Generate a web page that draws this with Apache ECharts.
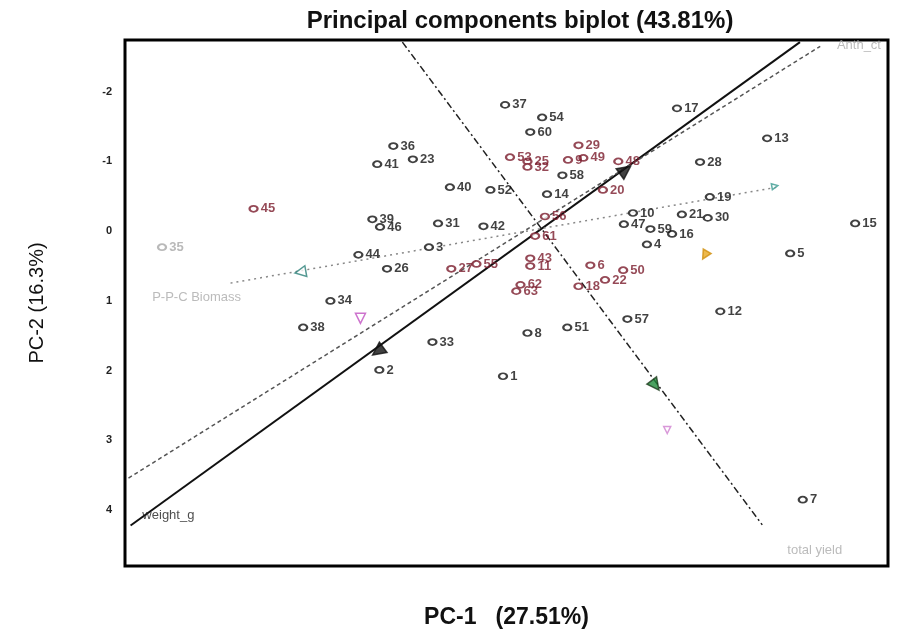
<!DOCTYPE html>
<html><head><meta charset="utf-8">
<script src="https://cdn.jsdelivr.net/npm/echarts@6/dist/echarts.min.js"></script>
<style>html,body{margin:0;padding:0;background:#fff}#c{width:912px;height:629px}</style>
</head><body><div id="c"></div>
<script>
// ---- data ----
const pointLabels = ['37','54','60','29','53','25','32','9','49','58','48','17','13','28','36','41','23','40','52','14','20','19','45','39','46','31','42','56','10','47','59','16','4','21','30','15','5','35','3','44','61','26','27','55','43','11','6','50','22','18','62','63','34','38','33','2','1','8','51','57','12','7'];
const pointX = [-0.55,-0.02,-0.19,0.50,-0.48,-0.23,-0.23,0.35,0.57,0.27,1.07,1.91,3.20,2.24,-2.15,-2.38,-1.87,-1.34,-0.76,0.05,0.85,2.38,-4.15,-2.45,-2.34,-1.51,-0.86,0.02,1.28,1.15,1.53,1.84,1.48,1.98,2.35,4.46,3.53,-5.46,-1.64,-2.65,-0.12,-2.24,-1.32,-0.96,-0.19,-0.19,0.67,1.14,0.88,0.50,-0.33,-0.39,-3.05,-3.44,-1.59,-2.35,-0.58,-0.23,0.34,1.20,2.53,3.71];
const pointY = [-1.81,-1.63,-1.42,-1.23,-1.06,-1.00,-0.92,-1.02,-1.05,-0.80,-1.00,-1.76,-1.33,-0.99,-1.22,-0.96,-1.03,-0.63,-0.59,-0.53,-0.59,-0.49,-0.32,-0.17,-0.06,-0.11,-0.07,-0.21,-0.26,-0.10,-0.03,0.04,0.19,-0.24,-0.19,-0.11,0.32,0.23,0.23,0.34,0.07,0.54,0.54,0.47,0.39,0.50,0.49,0.56,0.70,0.79,0.77,0.86,1.00,1.38,1.59,1.99,2.08,1.46,1.38,1.26,1.15,3.85];
// group: 0 = black, 1 = dark red, 2 = faded
const pointGroup = [0,0,0,1,1,1,1,1,1,0,1,0,0,0,0,0,0,0,0,0,1,0,1,0,0,0,0,1,0,0,0,0,0,0,0,0,0,2,0,0,1,0,1,1,1,1,1,1,1,1,1,1,0,0,0,0,0,0,0,0,0,0];

// variable vectors (start / end in PC units)
const vecNames = ['weight_g','Anth_ct','P-P-C Biomass','total yield'];
const vecFromX = [-5.91,-5.94,-4.48,-2.02];
const vecFromY = [4.22,3.54,0.745,-2.71];
const vecToX = [3.67,3.96,3.34,3.13];
const vecToY = [-2.71,-2.65,-0.63,4.21];

// arrow heads along vectors
const headX = [-2.37,1.17,1.60,-3.48,-2.62,2.31,1.77,3.31];
const headY = [1.72,-0.874,2.21,0.587,1.25,0.344,2.85,-0.645];

// vector end labels
const vecLabelX = [-5.77,4.17,-5.63,3.46];
const vecLabelY = [4.08,-2.66,0.946,4.57];

const yTicks = [-2,-1,0,1,2,3,4];

// ---- styles ----
const groupColor = ['#111111','#7b1c2c','#a8a8a8'];
const vecStyle = [
  {color:'#111', width:2, type:'solid'},
  {color:'#555', width:1.5, type:[4,3]},
  {color:'#888', width:1.5, type:[2,4]},
  {color:'#222', width:1.5, type:[7,3,2,3]}
];
const headStyle = [
  {rot:126, size:13, fill:'#111', stroke:'#111'},
  {rot:-54, size:13, fill:'#111', stroke:'#111'},
  {rot:-143, size:12, fill:'#1f8a3a', stroke:'#1a3a1a'},
  {rot:100, size:11, fill:'#fff', stroke:'#2a8078'},
  {rot:180, size:10, fill:'#fff', stroke:'#c050c0'},
  {rot:150, size:9, fill:'#e8a820', stroke:'#d09010'},
  {rot:180, size:7, fill:'#fff', stroke:'#d080d0'},
  {rot:-80, size:6, fill:'#fff', stroke:'#3a9a90'}
];
const vecLabelColor = ['#222','#aaa','#aaa','#aaa'];

const series = [];
vecNames.forEach((n,i)=>{
  series.push({
    type:'line', name:n, silent:true, symbol:'none', z:1,
    data:[[vecFromX[i],vecFromY[i]],[vecToX[i],vecToY[i]]],
    lineStyle:vecStyle[i]
  });
});
[0,1,2].forEach(g=>{
  const data=[];
  pointLabels.forEach((l,i)=>{ if(pointGroup[i]===g) data.push({name:l,value:[pointX[i],pointY[i]]}); });
  series.push({
    type:'scatter', z:3, symbol:'emptyCircle', symbolSize:[8,6],
    itemStyle:{color:groupColor[g], borderColor:groupColor[g], borderWidth:1.8},
    label:{show:true, position:'right', distance:2, formatter:p=>p.name,
      color:groupColor[g], fontSize:13, fontWeight:'bold', fontFamily:'Liberation Sans'},
    data
  });
});
series.push({
  type:'scatter', z:4, silent:true,
  data: headX.map((x,i)=>({value:[x,headY[i]], symbol:'triangle', symbolRotate:headStyle[i].rot,
    symbolSize:headStyle[i].size, itemStyle:{color:headStyle[i].fill, borderColor:headStyle[i].stroke, borderWidth:1.5}}))
});
series.push({
  type:'scatter', z:4, silent:true, symbolSize:0,
  data: vecLabelX.map((x,i)=>({name:vecNames[i], value:[x,vecLabelY[i]],
    label:{show:true, position:'right', distance:2, formatter:vecNames[i], color:vecLabelColor[i],
      fontSize:13, fontFamily:'Liberation Sans'}}))
});

const chart = echarts.init(document.getElementById('c'), null, {renderer:'canvas'});
chart.setOption({
  animation:false,
  backgroundColor:'#fff',
  title:{text:'Principal components biplot (43.81%)', left:515, top:4, textAlign:'center',
    textStyle:{fontSize:24, fontWeight:'bold', color:'#111', fontFamily:'Liberation Sans'}},
  grid:{left:125, right:24, top:40, bottom:63, outerBoundsMode:'none', containLabel:false,
    show:true, borderColor:'#000', borderWidth:3, backgroundColor:'#fff'},
  xAxis:{type:'value', min:-5.99, max:4.93, axisLine:{show:false}, axisTick:{show:false},
    axisLabel:{show:false}, splitLine:{show:false},
    name:'PC-1   (27.51%)', nameLocation:'middle', nameGap:40,
    nameTextStyle:{fontSize:23, fontWeight:'bold', color:'#111', fontFamily:'Liberation Sans'}},
  yAxis:{type:'value', inverse:true, min:-2.74, max:4.8, axisLine:{show:false}, axisTick:{show:false},
    splitLine:{show:false},
    axisLabel:{customValues:yTicks, margin:13, fontSize:11, fontWeight:'bold', color:'#222', fontFamily:'Liberation Sans'},
    name:'PC-2 (16.3%)', nameLocation:'middle', nameGap:78,
    nameTextStyle:{fontSize:20, color:'#111', fontFamily:'Liberation Sans'}},
  series
});
</script>
</body></html>
